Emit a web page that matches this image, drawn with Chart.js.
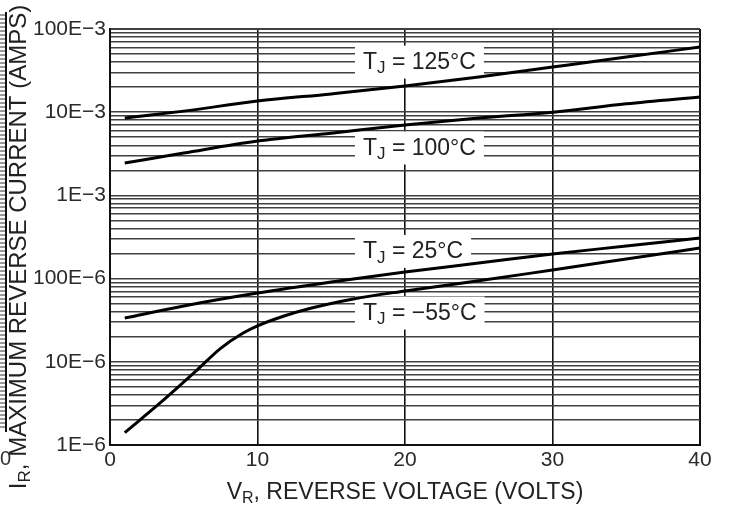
<!DOCTYPE html>
<html>
<head>
<meta charset="utf-8">
<script src="https://cdn.jsdelivr.net/npm/chart.js@4.4.1/dist/chart.umd.min.js"></script>
<style>
html,body{margin:0;padding:0;background:#fff;}
#wrap{position:relative;width:731px;height:507px;}
</style>
</head>
<body>
<div id="wrap"><canvas id="c" width="731" height="507"></canvas></div>
<script>
// ---- data ----
const VOLTS = [1, 5, 10, 15, 20, 25, 30, 35, 40];
const I_125 = [8.5e-3, 10.3e-3, 13.6e-3, 16.6e-3, 20.6e-3, 26.5e-3, 34.9e-3, 46e-3, 60.8e-3];
const I_100 = [2.45e-3, 3.23e-3, 4.5e-3, 5.6e-3, 7.0e-3, 8.5e-3, 10.0e-3, 12.6e-3, 15.2e-3];
const I_25  = [33.6e-6, 46.9e-6, 67e-6, 91e-6, 120e-6, 154e-6, 198e-6, 246e-6, 308e-6];
const VOLTS_M55 = [1, 3.4, 5.9, 7.5, 9, 10, 11.7, 13.6, 16.5, 20, 25, 30, 35, 40];
const I_M55 = [1.41e-6, 3.2e-6, 7.96e-6, 14.5e-6, 22e-6, 27e-6, 35e-6, 44e-6, 57e-6, 71e-6, 94e-6, 127e-6, 172e-6, 233e-6];
const Y_LABELS = ['1E\u22126', '10E\u22126', '100E\u22126', '1E\u22123', '10E\u22123', '100E\u22123'];
const X_TICKS = [0, 10, 20, 30, 40];
const SERIES_LABELS = ['125\u00B0C', '100\u00B0C', '25\u00B0C', '\u221255\u00B0C'];
// label anchors (voltage, current) for the T_J annotations
const LABEL_V = [17.15, 17.15, 17.15, 17.15];
const LABEL_I = [40.6e-3, 3.77e-3, 215e-6, 39.1e-6];

const FONT = '"Liberation Sans", Arial, Helvetica, sans-serif';
const pts = (xs, ys) => xs.map((x, i) => ({x: x, y: ys[i]}));

function drawParts(ctx, parts, x, y, align) {
  let total = 0;
  parts.forEach(p => { ctx.font = p.size + 'px ' + FONT; p.w = ctx.measureText(p.t).width; total += p.w; });
  let cx = align === 'center' ? x - total / 2 : x;
  ctx.textAlign = 'left';
  ctx.textBaseline = 'middle';
  parts.forEach(p => { ctx.font = p.size + 'px ' + FONT; ctx.fillText(p.t, cx, y + (p.dy || 0)); cx += p.w; });
  return total;
}

const decor = {
  id: 'decor',
  beforeDatasetsDraw(chart) {
    const ctx = chart.ctx;
    const xs = chart.scales.x, ys = chart.scales.y;
    ctx.save();
    SERIES_LABELS.forEach((lab, i) => {
      const px = xs.getPixelForValue(LABEL_V[i]);
      const py = ys.getPixelForValue(LABEL_I[i]);
      const parts = [{t: 'T', size: 23}, {t: 'J', size: 17, dy: 6}, {t: ' = ' + lab, size: 23}];
      let total = 0;
      parts.forEach(p => { ctx.font = p.size + 'px ' + FONT; total += ctx.measureText(p.t).width; });
      ctx.fillStyle = '#fff';
      ctx.fillRect(px - 8, py - 16, total + 16, 33);
      ctx.fillStyle = '#222';
      drawParts(ctx, parts, px, py + 1, 'left');
    });
    ctx.restore();
  },
  afterDraw(chart) {
    const ctx = chart.ctx;
    ctx.save();
    ctx.fillStyle = '#222';
    drawParts(ctx, [{t: 'V', size: 23}, {t: 'R', size: 16, dy: 6}, {t: ', REVERSE VOLTAGE (VOLTS)', size: 23}], 405, 493, 'center');
    ctx.translate(19, 247);
    ctx.rotate(-Math.PI / 2);
    drawParts(ctx, [{t: 'I', size: 24}, {t: 'R', size: 17, dy: 6}, {t: ', MAXIMUM REVERSE CURRENT (AMPS)', size: 24}], 0, 0, 'center');
    ctx.restore();
    // cropped fragment of neighbouring figure at far left
    ctx.save();
    ctx.fillStyle = '#999';
    for (let yy = 14; yy < 430; yy += 4) ctx.fillRect(0, yy, 5, 2);
    ctx.fillStyle = '#111';
    ctx.fillRect(5, 12, 2, 420);
    ctx.font = '20px ' + FONT;
    ctx.textAlign = 'right';
    ctx.textBaseline = 'middle';
    ctx.fillStyle = '#333';
    ctx.fillText('40', 11, 459);
    ctx.restore();
  }
};

const lineDs = (data) => ({
  data: data, borderColor: '#000', borderWidth: 3, pointRadius: 0,
  fill: false, cubicInterpolationMode: 'monotone'
});

new Chart(document.getElementById('c'), {
  type: 'line',
  data: {
    datasets: [
      lineDs(pts(VOLTS, I_125)),
      lineDs(pts(VOLTS, I_100)),
      lineDs(pts(VOLTS, I_25)),
      lineDs(pts(VOLTS_M55, I_M55))
    ]
  },
  options: {
    responsive: false,
    animation: false,
    layout: {padding: {top: 29, right: 31, left: 0, bottom: 0}},
    plugins: {legend: {display: false}, tooltip: {enabled: false}},
    scales: {
      x: {
        type: 'linear', min: 0, max: 40,
        afterBuildTicks: s => { s.ticks = X_TICKS.map(v => ({value: v})); },
        afterFit: s => { s.height = 62; },
        ticks: {color: '#2a2a2a', font: {size: 21, family: FONT}, padding: 3, maxRotation: 0},
        grid: {
          drawTicks: false,
          color: '#111',
          lineWidth: c => (c.tick && (c.tick.value === 0 || c.tick.value === 40)) ? 2 : 1.6
        },
        border: {display: true, color: '#111', width: 2}
      },
      y: {
        type: 'logarithmic', min: 1e-6, max: 0.1,
        afterBuildTicks: s => {
          const t = [];
          for (let k = -6; k <= -2; k++) for (let m = 1; m <= 9; m++) t.push({value: m * Math.pow(10, k)});
          t.push({value: 0.1});
          s.ticks = t;
        },
        afterFit: s => { s.width = 110; },
        ticks: {
          color: '#2a2a2a', font: {size: 21, family: FONT}, padding: 4, autoSkip: false,
          callback: v => {
            const l = Math.log10(v);
            const r = Math.round(l);
            return Math.abs(l - r) < 1e-6 ? Y_LABELS[r + 6] : '';
          }
        },
        grid: {
          drawTicks: false,
          color: '#404040',
          lineWidth: c => (c.tick && Math.abs(c.tick.value - 0.1) < 1e-9) ? 2 : 1.6
        },
        border: {display: true, color: '#111', width: 2}
      }
    }
  },
  plugins: [decor]
});
</script>
</body>
</html>
